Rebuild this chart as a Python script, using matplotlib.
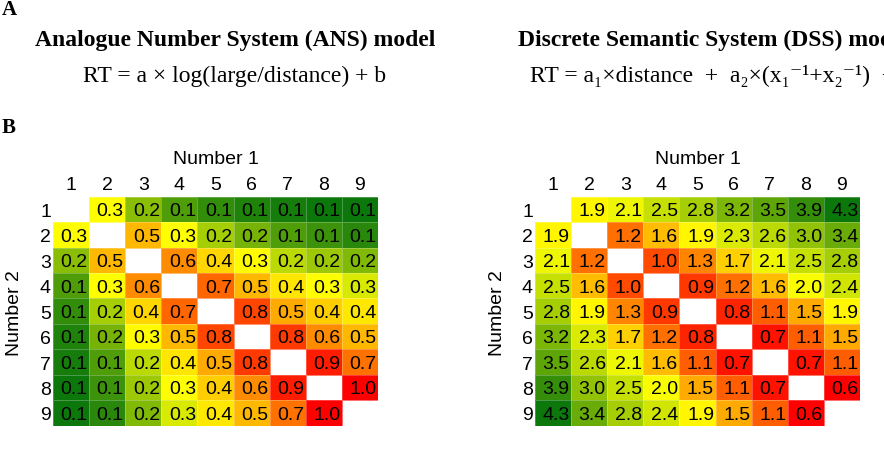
import numpy as np
import matplotlib
matplotlib.use("Agg")
import matplotlib.pyplot as plt
from matplotlib.colors import LinearSegmentedColormap, TwoSlopeNorm

plt.rcParams['font.family'] = ['Liberation Sans', 'DejaVu Sans']

numbers = ['1', '2', '3', '4', '5', '6', '7', '8', '9']
N = None

ans_values = [
    [N,   .31, .19, .13, .10, .08, .07, .06, .06],
    [.31, N,   .50, .31, .22, .17, .13, .11, .09],
    [.19, .50, N,   .62, .42, .32, .24, .21, .18],
    [.13, .31, .62, N,   .72, .50, .38, .31, .27],
    [.10, .22, .42, .72, N,   .81, .54, .44, .37],
    [.08, .17, .32, .50, .81, N,   .84, .62, .50],
    [.07, .13, .24, .38, .54, .84, N,   .92, .69],
    [.06, .11, .21, .31, .44, .62, .92, N,   1.0],
    [.06, .09, .18, .27, .37, .50, .69, 1.0, N],
]

dss_values = [
    [N,   1.9, 2.1, 2.5, 2.8, 3.2, 3.5, 3.9, 4.3],
    [1.9, N,   1.2, 1.6, 1.9, 2.3, 2.6, 3.0, 3.4],
    [2.1, 1.2, N,   1.0, 1.3, 1.7, 2.1, 2.5, 2.8],
    [2.5, 1.6, 1.0, N,   0.9, 1.2, 1.6, 2.0, 2.4],
    [2.8, 1.9, 1.3, 0.9, N,   0.8, 1.1, 1.5, 1.9],
    [3.2, 2.3, 1.7, 1.2, 0.8, N,   0.7, 1.1, 1.5],
    [3.5, 2.6, 2.1, 1.6, 1.1, 0.7, N,   0.7, 1.1],
    [3.9, 3.0, 2.5, 2.0, 1.5, 1.1, 0.7, N,   0.6],
    [4.3, 3.4, 2.8, 2.4, 1.9, 1.5, 1.1, 0.6, N],
]

GREEN = '#0c780c'
YELLOW = '#ffff00'
RED = '#ff0000'
cmap_gyr = LinearSegmentedColormap.from_list('gyr', [GREEN, YELLOW, RED])
cmap_ryg = LinearSegmentedColormap.from_list('ryg', [RED, YELLOW, GREEN])

W, H = 884, 452
fig = plt.figure(figsize=(W / 100, H / 100), dpi=100)

FS = 14


def fx(px):
    return px / W


def fy(py):
    return 1 - py / H


def heat(left_px, vals, cmap, norm, num2_x):
    arr = np.array([[np.nan if v is None else v for v in row] for row in vals], dtype=float)
    ax = fig.add_axes([fx(left_px), fy(426.7), fx(325), 229 / H])
    m = np.ma.masked_invalid(arr)
    ax.pcolormesh(np.arange(10), np.arange(10), m, cmap=cmap, norm=norm,
                  edgecolor=(1, 1, 1, 0.25), linewidth=0.6)
    ax.set_xlim(0, 9)
    ax.set_ylim(9, 0)
    ax.set_xticks(np.arange(9) + 0.5)
    ax.set_xticklabels(numbers, fontsize=FS)
    ax.set_yticks(np.arange(9) + 0.5)
    ax.set_yticklabels(numbers, fontsize=FS)
    ax.xaxis.tick_top()
    ax.tick_params(axis='x', length=0, pad=3)
    ax.tick_params(axis='y', length=0, pad=1.5)
    for s in ax.spines.values():
        s.set_visible(False)
    for i in range(9):
        for j in range(9):
            v = arr[i, j]
            if np.isnan(v):
                continue
            ax.text(j + 0.96, i + 0.55, f"{v:.1f}", ha='right', va='center',
                    fontsize=FS, color='black')
    fig.text(fx(left_px + 162.5), fy(160), 'Number 1', ha='center', va='center', fontsize=FS)
    fig.text(fx(num2_x), fy(313), 'Number 2', ha='center', va='center', fontsize=FS, rotation=90)
    return ax


heat(53, ans_values, cmap_gyr, TwoSlopeNorm(vcenter=0.31, vmin=0.06, vmax=1.0), 15)
heat(535, dss_values, cmap_ryg, TwoSlopeNorm(vcenter=1.95, vmin=0.6, vmax=4.3), 497)

serif = ['Liberation Serif', 'DejaVu Serif']
fig.text(fx(2), fy(10), 'A', family=serif, weight='bold', fontsize=15, ha='left', va='center')
fig.text(fx(2), fy(128), 'B', family=serif, weight='bold', fontsize=15, ha='left', va='center')
fig.text(fx(235), fy(40), 'Analogue Number System (ANS) model', family=serif, weight='bold',
         fontsize=17, ha='center', va='center')
fig.text(fx(235), fy(76), 'RT = a \u00d7 log(large/distance) + b', family=serif,
         fontsize=17, ha='center', va='center')
fig.text(fx(518), fy(40), 'Discrete Semantic System (DSS) model', family=serif, weight='bold',
         fontsize=17, ha='left', va='center')
fig.text(fx(530), fy(76),
         'RT = a\u2081\u00d7distance  +  a\u2082\u00d7(x\u2081\u207b\u00b9+x\u2082\u207b\u00b9)  +  b',
         family=serif, fontsize=17, ha='left', va='center')

fig.savefig('out.png', dpi=100)
